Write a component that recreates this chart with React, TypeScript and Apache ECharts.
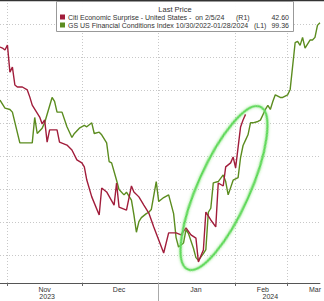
import React, { useEffect, useRef } from "react";
import * as echarts from "echarts";

// ---- categories: calendar days to end of Jan 2024, then weekdays ----
function buildCategories(): string[] {
  const out: string[] = [];
  let t = Date.UTC(2023, 9, 29);
  const feb1 = Date.UTC(2024, 1, 1);
  while (out.length < 130) {
    const d = new Date(t);
    const wd = d.getUTCDay();
    if (t < feb1 || (wd !== 0 && wd !== 6)) out.push(d.toISOString().slice(0, 10));
    t += 86400000;
  }
  return out;
}
const categories = buildCategories();

const monthStarts = ["2023-11-01", "2023-12-01", "2024-01-01", "2024-02-01", "2024-03-01"];
const monthLabelDates = ["2023-11-16", "2023-12-16", "2024-01-16", "2024-02-16", "2024-03-18"];
const monthLabels = ["Nov", "Dec", "Jan", "Feb", "Mar"];
const yearLabelDates = ["2023-11-17", "2024-02-21"];
const yearLabels = ["2023", "2024"];
const yearBoundary = "2024-01-01";

// Citi Economic Surprise - United States (R1)
const citiDates = [
  "2023-10-29", "2023-10-30", "2023-10-31", "2023-11-01", "2023-11-02", "2023-11-03", "2023-11-04", "2023-11-05",
  "2023-11-07", "2023-11-09", "2023-11-10", "2023-11-11", "2023-11-13", "2023-11-14", "2023-11-15", "2023-11-16",
  "2023-11-17", "2023-11-18", "2023-11-21", "2023-11-22", "2023-11-25", "2023-11-27", "2023-11-29", "2023-12-01",
  "2023-12-02", "2023-12-03", "2023-12-05", "2023-12-08", "2023-12-09", "2023-12-11", "2023-12-14", "2023-12-15",
  "2023-12-16", "2023-12-19", "2023-12-21", "2023-12-22", "2023-12-24", "2023-12-26", "2023-12-28", "2023-12-30",
  "2024-01-01", "2024-01-03", "2024-01-05", "2024-01-08", "2024-01-10", "2024-01-12", "2024-01-14", "2024-01-16",
  "2024-01-17", "2024-01-19", "2024-01-20", "2024-01-22", "2024-01-24", "2024-01-25", "2024-01-27", "2024-01-28",
  "2024-01-30", "2024-01-31", "2024-02-01", "2024-02-05", "2024-02-06", "2024-02-07",
];
const citiValues = [
  63.0, 62.7, 62.1, 63.6, 55.4, 56.9, 51.5, 50.9,
  50.9, 50.0, 47.9, 45.4, 43.0, 41.8, 39.7, 40.9,
  34.2, 37.9, 37.9, 34.2, 33.3, 31.8, 28.8, 27.9,
  26.7, 22.7, 17.6, 12.1, 20.3, 19.1, 15.1, 21.8,
  14.5, 13.6, 20.9, 19.1, 17.6, 15.1, 12.7, 8.5,
  4.5, 0.6, 6.7, 6.7, 6.1, 8.2, 6.1, 5.1,
  -2.1, 1.5, 13.0, 10.6, 8.5, 21.8, 20.9, 26.7,
  27.9, 29.7, 26.4, 38.8, 40.9, 42.6,
];

// GS US Financial Conditions Index (L1, inverted)
const gsDates = [
  "2023-10-29", "2023-10-31", "2023-11-02", "2023-11-03", "2023-11-06", "2023-11-11", "2023-11-12", "2023-11-13",
  "2023-11-15", "2023-11-16", "2023-11-19", "2023-11-20", "2023-11-21", "2023-11-23", "2023-11-25", "2023-11-27",
  "2023-11-28", "2023-11-30", "2023-12-02", "2023-12-03", "2023-12-05", "2023-12-06", "2023-12-08", "2023-12-09",
  "2023-12-11", "2023-12-12", "2023-12-13", "2023-12-15", "2023-12-16", "2023-12-18", "2023-12-19", "2023-12-21",
  "2023-12-22", "2023-12-23", "2023-12-24", "2023-12-25", "2023-12-27", "2023-12-28", "2023-12-29", "2023-12-31",
  "2024-01-01", "2024-01-03", "2024-01-05", "2024-01-07", "2024-01-08", "2024-01-09", "2024-01-11", "2024-01-12",
  "2024-01-13", "2024-01-15", "2024-01-16", "2024-01-17", "2024-01-19", "2024-01-20", "2024-01-21", "2024-01-22",
  "2024-01-23", "2024-01-25", "2024-01-27", "2024-01-28", "2024-01-29", "2024-01-31", "2024-02-02", "2024-02-05",
  "2024-02-06", "2024-02-07", "2024-02-08", "2024-02-09", "2024-02-12", "2024-02-14", "2024-02-15", "2024-02-19",
  "2024-02-20", "2024-02-21", "2024-02-22", "2024-02-23", "2024-02-27", "2024-02-28", "2024-03-01", "2024-03-04",
  "2024-03-06", "2024-03-07", "2024-03-08", "2024-03-11", "2024-03-12", "2024-03-14", "2024-03-15", "2024-03-18",
  "2024-03-19", "2024-03-20",
];
const gsValues = [
  99.90, 99.96, 99.97, 99.99, 100.22, 100.22, 100.03, 100.15,
  100.11, 100.07, 99.88, 99.91, 99.99, 99.99, 100.10, 100.18,
  100.15, 100.11, 100.09, 100.10, 100.07, 100.15, 100.14, 100.16,
  100.22, 100.36, 100.37, 100.50, 100.57, 100.61, 100.59, 100.65,
  100.76, 100.89, 100.81, 100.78, 100.75, 100.74, 100.72, 100.51,
  100.66, 100.63, 100.61, 100.75, 100.93, 101.00, 100.97, 100.87,
  100.90, 101.01, 101.08, 101.10, 101.05, 101.02, 100.74, 100.71,
  100.52, 100.51, 100.46, 100.51, 100.61, 100.50, 100.48, 100.33,
  100.24, 100.20, 100.16, 100.07, 100.07, 100.06, 100.05, 99.97,
  99.94, 99.97, 99.91, 99.86, 99.88, 99.88, 99.86, 99.82,
  99.47, 99.46, 99.49, 99.43, 99.51, 99.45, 99.45, 99.43,
  99.34, 99.32,
];

const legendTitle = "Last Price";
const legendRow1 = "Citi Economic Surprise - United States -  on 2/5/24";
const legendRow2 = "GS US Financial Conditions Index 10/30/2022-01/28/2024";
const legendAxis1 = "(R1)";
const legendAxis2 = "(L1)";
const legendValue1 = "42.60";
const legendValue2 = "99.36";

const RED = "#a11d3b";
const GREEN = "#5b8c1f";
const FONT = "Liberation Sans, Arial, sans-serif";

export default function App() {
  const ref = useRef<HTMLDivElement>(null);
  useEffect(() => {
    if (!ref.current) return;
    const chart = echarts.init(ref.current, undefined, { renderer: "svg" });
    const citiData = citiDates.map((d, i) => [d, citiValues[i]]);
    const gsData = gsDates.map((d, i) => [d, gsValues[i]]);
    const txt = (text: string, x: number, y: number, align: string, size: number) => ({
      type: "text",
      x,
      y,
      z: 101,
      style: {
        text,
        fill: "#333",
        fontSize: size,
        fontFamily: FONT,
        align,
        textAlign: align,
        verticalAlign: "middle",
        textVerticalAlign: "middle",
      },
    });
    chart.setOption({
      animation: false,
      backgroundColor: "#fff",
      grid: { left: 0, right: 0, top: 0, bottom: 18, containLabel: false },
      xAxis: [
        {
          type: "category",
          data: categories,
          boundaryGap: false,
          position: "bottom",
          axisLine: { onZero: false, lineStyle: { color: "#555", width: 1 } },
          axisTick: {
            show: true,
            length: 3,
            interval: (_i: number, v: string) => monthStarts.includes(v),
            lineStyle: { color: "#666" },
          },
          axisLabel: {
            interval: (_i: number, v: string) => monthLabelDates.includes(v),
            formatter: (v: string) => {
              const k = monthLabelDates.indexOf(v);
              return k >= 0 ? monthLabels[k] : "";
            },
            fontSize: 7,
            color: "#333",
            fontFamily: FONT,
            margin: 3,
          },
          splitLine: {
            show: true,
            interval: (_i: number, v: string) => monthStarts.includes(v),
            lineStyle: { color: "#c8c8c8", type: [1, 2], width: 1 },
          },
        },
        {
          type: "category",
          data: categories,
          boundaryGap: false,
          position: "bottom",
          axisLine: { show: false, onZero: false },
          axisTick: {
            show: true,
            length: 18,
            interval: (_i: number, v: string) => v === yearBoundary,
            lineStyle: { color: "#aaa" },
          },
          axisLabel: {
            interval: (_i: number, v: string) => yearLabelDates.includes(v),
            formatter: (v: string) => {
              const k = yearLabelDates.indexOf(v);
              return k >= 0 ? yearLabels[k] : "";
            },
            fontSize: 7,
            color: "#333",
            fontFamily: FONT,
            margin: 10,
          },
          splitLine: { show: false },
        },
      ],
      yAxis: [
        {
          type: "value",
          inverse: true,
          min: 99.15,
          max: 101.27,
          show: false,
          splitLine: { show: false },
        },
        {
          type: "value",
          position: "right",
          min: -8.5,
          max: 77.26,
          splitNumber: 9,
          axisLabel: { show: false },
          axisLine: { show: false },
          axisTick: { show: false },
          splitLine: { show: true, lineStyle: { color: "#c8c8c8", type: [1, 2], width: 1 } },
        },
      ],
      series: [
        {
          name: "GS US Financial Conditions Index",
          type: "line",
          xAxisIndex: 0,
          yAxisIndex: 0,
          data: gsData,
          showSymbol: false,
          lineStyle: { color: GREEN, width: 1.4 },
          itemStyle: { color: GREEN },
          z: 3,
        },
        {
          name: "Citi Economic Surprise - United States",
          type: "line",
          xAxisIndex: 0,
          yAxisIndex: 1,
          data: citiData,
          showSymbol: false,
          lineStyle: { color: RED, width: 1.4 },
          itemStyle: { color: RED },
          z: 4,
        },
      ],
      graphic: [
        {
          type: "line",
          z: 100,
          shape: { x1: 0, y1: 0.5, x2: 324, y2: 0.5 },
          style: { stroke: "#333", lineWidth: 1.5 },
        },
        {
          type: "ellipse",
          x: 224,
          y: 188,
          rotation: -0.42,
          z: 50,
          shape: { cx: 0, cy: 0, rx: 26, ry: 89 },
          style: {
            fill: "none",
            stroke: "#5fd85a",
            lineWidth: 2.2,
            shadowColor: "rgba(110,225,95,0.7)",
            shadowBlur: 3,
          },
        },
        {
          type: "rect",
          z: 100,
          shape: { x: 56.5, y: 1.5, width: 237, height: 30 },
          style: { fill: "rgba(255,255,255,0.96)", stroke: "#999", lineWidth: 1 },
        },
        txt(legendTitle, 175, 9.5, "center", 7.5),
        {
          type: "rect",
          z: 101,
          shape: { x: 60, y: 14.5, width: 5, height: 5 },
          style: { fill: RED },
        },
        txt(legendRow1, 68, 17, "left", 7),
        txt(legendAxis1, 236, 17, "left", 7),
        txt(legendValue1, 289, 17, "right", 7),
        {
          type: "rect",
          z: 101,
          shape: { x: 60, y: 22.5, width: 5, height: 5 },
          style: { fill: GREEN },
        },
        txt(legendRow2, 68, 25, "left", 7),
        txt(legendAxis2, 254, 25, "left", 7),
        txt(legendValue2, 289, 25, "right", 7),
      ],
    });
    return () => chart.dispose();
  }, []);
  return (
    <div
      ref={ref}
      style={{ position: "fixed", left: 0, top: 0, width: 324, height: 301, background: "#fff" }}
    />
  );
}
